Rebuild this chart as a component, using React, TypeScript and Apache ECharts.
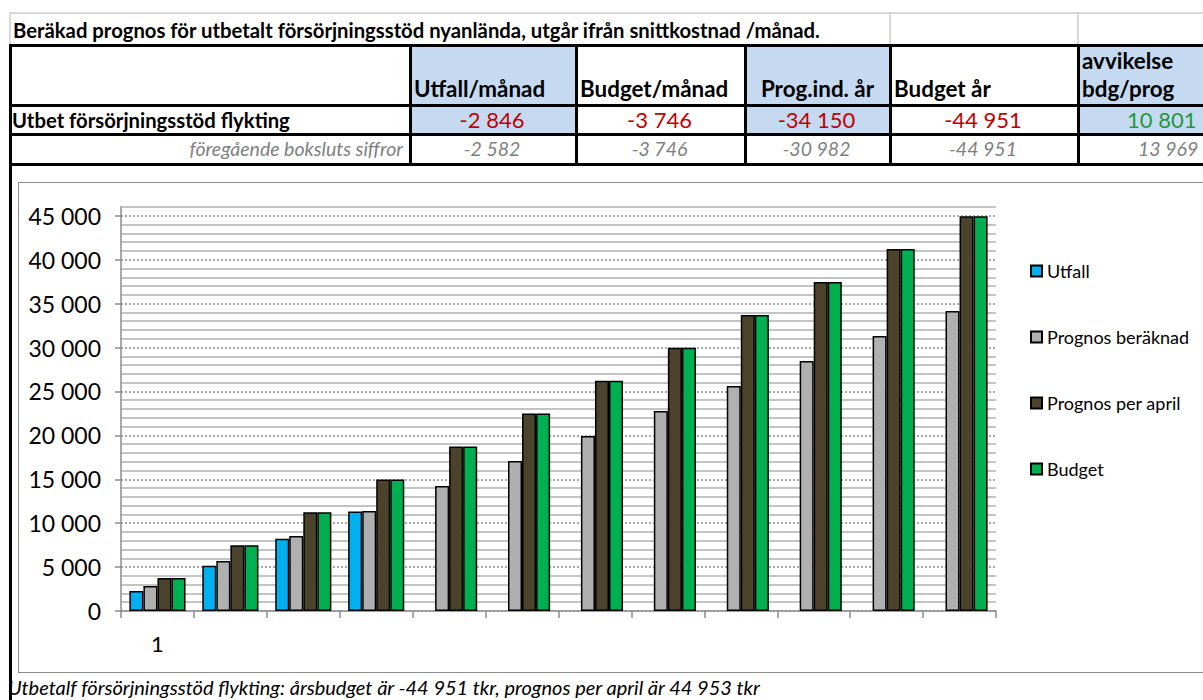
import React, { useEffect, useRef } from "react";
import * as echarts from "echarts";

// ---- data ----
const titleText = "Beräkad prognos för utbetalt försörjningsstöd nyanlända, utgår ifrån snittkostnad /månad.";
const headerLabels = ["Utfall/månad", "Budget/månad", "Prog.ind. år", "Budget år", "avvikelse bdg/prog"];
const rowLabel = "Utbet försörjningsstöd flykting";
const rowValues = ["-2 846", "-3 746", "-34 150", "-44 951", "10 801"];
const prevLabel = "föregående boksluts siffror";
const prevValues = ["-2 582", "-3 746", "-30 982", "-44 951", "13 969"];
const footnote = "Utbetalf försörjningsstöd flykting: årsbudget är -44 951 tkr, prognos per april är 44 953 tkr";

const categories = ["1", "2", "3", "4", "5", "6", "7", "8", "9", "10", "11", "12"];
const seriesNames = ["Utfall", "Prognos beräknad", "Prognos per april", "Budget"];
const utfall = [2270, 5150, 8220, 11330, null, null, null, null, null, null, null, null];
const prognosBeraknad = [2850, 5690, 8540, 11380, 14230, 17080, 19920, 22770, 25610, 28460, 31310, 34150];
const prognosPerApril = [3750, 7490, 11240, 14980, 18730, 22480, 26220, 29970, 33710, 37460, 41210, 44953];
const budget = [3746, 7492, 11238, 14984, 18730, 22476, 26222, 29968, 33714, 37460, 41206, 44951];
const seriesColors = ["#00b0f0", "#b0b0b0", "#4b432b", "#00b050"];

const fmt = (v: number) => String(v).replace(/\B(?=(\d{3})+(?!\d))/g, " ");

const FONT = "Lato, 'Noto Sans', sans-serif";

function Chart() {
  const ref = useRef<HTMLDivElement>(null);
  useEffect(() => {
    if (!ref.current) return;
    const chart = echarts.init(ref.current, undefined, { renderer: "svg" });
    const gTop = 25;
    const gH = 404;
    const step = gH / 46;
    const data = [utfall, prognosBeraknad, prognosPerApril, budget];
    chart.setOption({
      animation: false,
      textStyle: { fontFamily: FONT },
      grid: [
        { left: 103, top: gTop, width: 875, height: gH },
        { left: 103, top: gTop + step, width: 875, height: gH - step },
      ],
      legend: {
        orient: "vertical",
        left: 1007,
        top: 75,
        itemWidth: 11,
        itemHeight: 11,
        itemGap: 48,
        icon: "rect",
        data: seriesNames,
        textStyle: { fontSize: 18, color: "#000", lineHeight: 16, fontFamily: FONT },
      },
      xAxis: [
        {
          type: "category",
          gridIndex: 0,
          data: categories,
          axisLine: { lineStyle: { color: "#8c8c8c", width: 1.5 } },
          axisTick: { show: true, length: 7, lineStyle: { color: "#8c8c8c", width: 1.5 } },
          axisLabel: {
            fontSize: 22,
            color: "#000",
            margin: 21,
            fontFamily: FONT,
            formatter: (v: string, i: number) => (i === 0 ? v : ""),
          },
          splitLine: { show: false },
        },
        { type: "category", gridIndex: 1, data: categories, show: false },
      ],
      yAxis: [
        {
          type: "value",
          gridIndex: 0,
          min: 0,
          max: 46000,
          interval: 1000,
          axisLine: { show: true, lineStyle: { color: "#8c8c8c", width: 1.5 } },
          axisTick: { show: false },
          axisLabel: { show: false },
          splitLine: {
            show: true,
            lineStyle: { color: ["transparent", "#c4c4c4", "#c4c4c4", "#c4c4c4", "#c4c4c4"], width: 2 },
          },
        },
        {
          type: "value",
          gridIndex: 1,
          min: 0,
          max: 45000,
          interval: 5000,
          axisLine: { show: false },
          axisTick: { show: true, length: 6, lineStyle: { color: "#8c8c8c", width: 1.5 } },
          axisLabel: { fontSize: 23, color: "#000", margin: 20, fontFamily: FONT, formatter: (v: number) => fmt(v) },
          splitLine: { show: true, lineStyle: { color: "#8c8c8c", type: [2, 2], width: 1.5 } },
        },
      ],
      series: seriesNames.map((name, i) => ({
        name,
        type: "bar",
        xAxisIndex: 0,
        yAxisIndex: 0,
        data: data[i],
        barGap: "0%",
        barCategoryGap: "23%",
        itemStyle: { color: seriesColors[i], borderColor: "#000", borderWidth: 1.5 },
      })),
    });
    return () => chart.dispose();
  }, []);
  return <div ref={ref} style={{ position: "absolute", left: 18, top: 182, width: 1185, height: 491 }} />;
}

const abs = (s: React.CSSProperties): React.CSSProperties => ({ position: "absolute", ...s });

export default function App() {
  const black = "#000";
  const colX = [9, 409, 575, 744, 889, 1077, 1240];
  const blueCols = [1, 3, 5];
  const rowsY = { titleTop: 12, h1: 44, h2: 104, h3: 133, h4: 163 };
  const cellCenters = colX.slice(1, 6).map((x, i) => (x + colX[i + 2]) / 2);
  const hdr = (s: React.CSSProperties): React.CSSProperties => abs({ top: 75, fontSize: 22.4, fontWeight: 700, lineHeight: "28px", whiteSpace: "nowrap", ...s });
  return (
    <div style={abs({ left: 0, top: 0, width: 1203, height: 700, overflow: "hidden", background: "#fff", fontFamily: FONT, color: "#000" })}>
      {/* blue fills */}
      {blueCols.map((c) => (
        <div key={"b" + c} style={abs({ left: colX[c], top: rowsY.h1, width: colX[c + 1] - colX[c], height: rowsY.h3 - rowsY.h1, background: "#c5d9f1" })} />
      ))}
      {/* title row light grid */}
      <div style={abs({ left: 9, top: rowsY.titleTop, width: 1200, height: 2, background: "#d9d9d9" })} />
      {[9, 889, 1077].map((x) => (
        <div key={"tv" + x} style={abs({ left: x, top: rowsY.titleTop, width: 2, height: rowsY.h1 - rowsY.titleTop, background: "#d9d9d9" })} />
      ))}
      {/* thick horizontals */}
      {[rowsY.h1, rowsY.h2, rowsY.h3, rowsY.h4].map((y) => (
        <div key={"h" + y} style={abs({ left: 9, top: y, width: 1200, height: 3, background: black })} />
      ))}
      {/* verticals */}
      {colX.slice(1, 6).map((x) => (
        <div key={"v" + x} style={abs({ left: x, top: rowsY.h1, width: 2.5, height: rowsY.h4 + 3 - rowsY.h1, background: black })} />
      ))}
      <div style={abs({ left: 9, top: rowsY.h1, width: 3, height: 700 - rowsY.h1, background: black })} />
      {/* title */}
      <div style={abs({ left: 13, top: 16, fontSize: 20.3, fontWeight: 700, lineHeight: "28px", whiteSpace: "nowrap" })}>{titleText}</div>
      {/* headers */}
      <div style={hdr({ left: 414 })}>{headerLabels[0]}</div>
      <div style={hdr({ left: 580 })}>{headerLabels[1]}</div>
      <div style={hdr({ left: 746, width: 143, textAlign: "center" })}>{headerLabels[2]}</div>
      <div style={hdr({ left: 894 })}>{headerLabels[3]}</div>
      <div style={abs({ left: 1082, top: 47, fontSize: 22.4, fontWeight: 700, lineHeight: "28px", width: 118, whiteSpace: "nowrap" })}>
        {headerLabels[4].split(" ")[0]}
        <br />
        {headerLabels[4].split(" ")[1]}
      </div>
      {/* data row */}
      <div style={abs({ left: 12, top: 106, fontSize: 20.3, fontWeight: 700, lineHeight: "28px", whiteSpace: "nowrap" })}>{rowLabel}</div>
      {rowValues.map((v, i) =>
        i === 4 ? (
          <div key={"rv" + i} style={abs({ left: 1127, top: 105, fontSize: 22, lineHeight: "30px", color: "#1f9a3a", whiteSpace: "nowrap" })}>
            {v}
          </div>
        ) : (
          <div
            key={"rv" + i}
            style={abs({ left: cellCenters[i] - 80, width: 160, top: 105, fontSize: 22, lineHeight: "30px", textAlign: "center", color: "#c00000", whiteSpace: "nowrap" })}
          >
            {v}
          </div>
        )
      )}
      {/* prev row */}
      <div style={abs({ left: 12, width: 391, top: 136, fontSize: 19.5, fontStyle: "italic", lineHeight: "26px", textAlign: "right", color: "#7f7f7f", whiteSpace: "nowrap" })}>{prevLabel}</div>
      {prevValues.map((v, i) =>
        i === 4 ? (
          <div key={"pv" + i} style={abs({ left: 1138, top: 136, fontSize: 19.5, fontStyle: "italic", lineHeight: "26px", color: "#7f7f7f", whiteSpace: "nowrap" })}>
            {v}
          </div>
        ) : (
          <div
            key={"pv" + i}
            style={abs({ left: cellCenters[i] - 80, width: 160, top: 136, fontSize: 19.5, fontStyle: "italic", lineHeight: "26px", textAlign: "center", color: "#7f7f7f", whiteSpace: "nowrap" })}
          >
            {v}
          </div>
        )
      )}
      {/* chart box */}
      <div style={abs({ left: 18, top: 182, width: 1200, height: 491, boxSizing: "border-box", border: "1.5px solid #8c8c8c" })} />
      <Chart />
      {/* footnote */}
      <div style={abs({ left: 8, top: 675, fontSize: 20, fontStyle: "italic", lineHeight: "24px", whiteSpace: "nowrap" })}>{footnote}</div>
    </div>
  );
}
